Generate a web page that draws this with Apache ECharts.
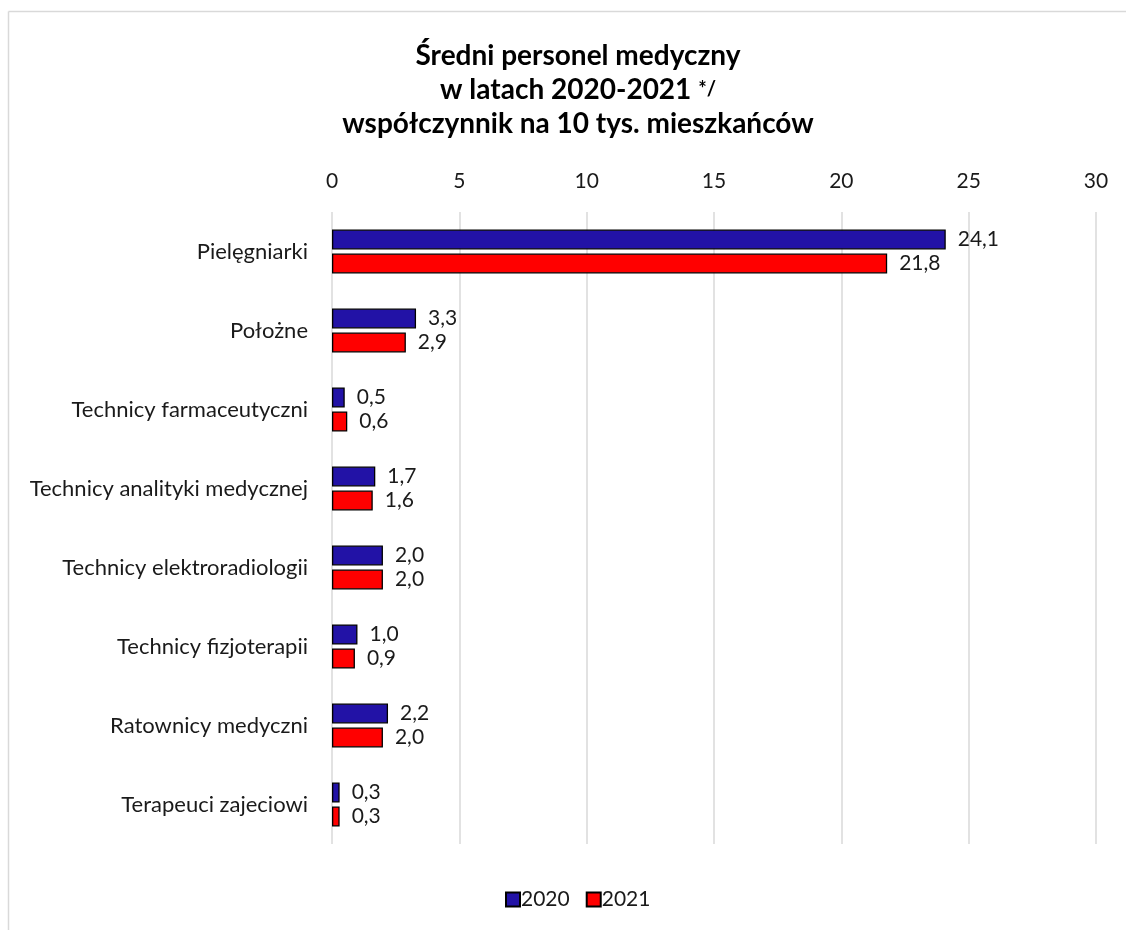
<!DOCTYPE html>
<html><head><meta charset="utf-8">
<script src="https://cdn.jsdelivr.net/npm/echarts@6/dist/echarts.min.js"></script>
<style>html,body{margin:0;padding:0;background:#fff}#c{width:1126px;height:930px}</style>
</head><body><div id="c"></div>
<script>
const categories = ["Pielęgniarki","Położne","Technicy farmaceutyczni","Technicy analityki medycznej","Technicy elektroradiologii","Technicy fizjoterapii","Ratownicy medyczni","Terapeuci zajeciowi"];
const series2020 = [24.1,3.3,0.5,1.7,2.0,1.0,2.2,0.3];
const series2021 = [21.8,2.9,0.6,1.6,2.0,0.9,2.0,0.3];
const seriesNames = ["2020","2021"];
const FONT = "Lato, 'Liberation Sans', sans-serif";
const TXT = '#1a1a1a';
const chart = echarts.init(document.getElementById('c'));
const fmt = p => p.value.toFixed(1).replace('.', ',');
function mkSeries(name, data, color){
  return {
    name, type:'bar', data, barWidth:20, barGap:'20%',
    itemStyle:{color, borderColor:'#000', borderWidth:1.3},
    label:{show:true, position:'right', distance:12, formatter:fmt, color:TXT, fontSize:21, fontFamily:FONT},
    emphasis:{disabled:true}
  };
}
chart.setOption({
  animation:false,
  textStyle:{fontFamily:FONT},
  graphic:[
    {type:'line', shape:{x1:8.5,y1:11.5,x2:1126,y2:11.5}, style:{stroke:'#d9d9d9', lineWidth:1.5}},
    {type:'line', shape:{x1:8.5,y1:11.5,x2:8.5,y2:930}, style:{stroke:'#d9d9d9', lineWidth:1.5}}
  ],
  title:{
    text:'Średni personel medyczny\nw latach 2020-2021 {s|*/}\nwspółczynnik na 10 tys. mieszkańców',
    left:573, textAlign:'center', top:34,
    textStyle:{fontSize:28, fontWeight:'bold', color:'#000', fontFamily:FONT, lineHeight:34,
      rich:{s:{fontSize:20, fontWeight:'bold', color:'#000', fontFamily:FONT, lineHeight:34}}}
  },
  legend:{
    data:seriesNames, top:884, left:500, itemWidth:14, itemHeight:14, itemGap:16,
    icon:'rect',
    textStyle:{fontSize:21, color:TXT, fontFamily:FONT, padding:[0,0,0,-4]}
  },
  grid:{left:332, right:30, top:212, height:632, containLabel:false},
  xAxis:{
    type:'value', position:'top', min:0, max:30, interval:5,
    axisLine:{show:false}, axisTick:{show:false},
    splitLine:{show:true, lineStyle:{color:'#d9d9d9', width:1.5}},
    axisLabel:{fontSize:21, color:TXT, margin:20, fontFamily:FONT}
  },
  yAxis:{
    type:'category', data:categories, inverse:true,
    axisLine:{show:false}, axisTick:{show:false},
    axisLabel:{fontSize:22, color:TXT, margin:24, fontFamily:FONT}
  },
  series:[mkSeries(seriesNames[0], series2020, '#2212a6'), mkSeries(seriesNames[1], series2021, '#ff0000')]
});
</script></body></html>
